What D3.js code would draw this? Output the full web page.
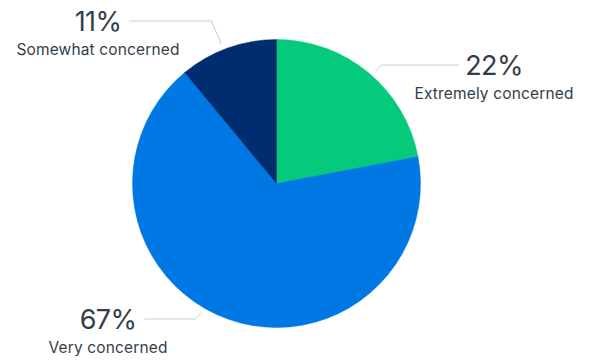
<!DOCTYPE html>
<html>
<head>
<meta charset="utf-8">
<script src="https://cdn.jsdelivr.net/npm/d3@7"></script>
<style>
  body { margin: 0; background: #fff; }
  svg { display: block; }
</style>
</head>
<body>
<div id="vis"></div>
<script>
const FRAME_WIDTH = 590;
const FRAME_HEIGHT = 360;

// chart data
const categories = ["Extremely concerned", "Very concerned", "Somewhat concerned"];
const shares = [22, 67, 11];
const colors = ["#06ca7b", "#0078e3", "#002d6f"];

const CX = 276.5, CY = 183.5, RADIUS = 144;
const TEXT_COLOR = "#333e4a";

// where each label sits (lineY = y of the horizontal leader, textX = centre of text)
const LABEL_LAYOUT = {
  "Extremely concerned": {side: 1, lineY: 65, textX: 494, elbowDx: 6, startY: 71},
  "Very concerned": {side: -1, lineY: 319, textX: 108, elbowDx: 5, startY: 313},
  "Somewhat concerned": {side: -1, lineY: 21, textX: 98, elbowDx: 10, startY: 44}
};

const data = categories.map((c, i) => ({name: c, value: shares[i], color: colors[i]}));

const FRAME = d3.select("#vis")
  .append("svg")
    .attr("width", FRAME_WIDTH)
    .attr("height", FRAME_HEIGHT);

const pie = d3.pie()
  .sort(null)
  .value(d => d.value);

const arc = d3.arc()
  .innerRadius(0)
  .outerRadius(RADIUS);

const g = FRAME.append("g")
  .attr("transform", "translate(" + CX + "," + CY + ")");

g.selectAll("path")
  .data(pie(data))
  .enter()
  .append("path")
    .attr("d", arc)
    .attr("fill", d => d.data.color)
    .attr("stroke", d => d.data.color)
    .attr("stroke-width", 0.5);

// labels with leader lines
const LEAD_R = RADIUS + 6;
data.forEach(d => {
  const L = LABEL_LAYOUT[d.name];
  const sy = L.startY;
  const sx = CX + L.side * Math.sqrt(LEAD_R * LEAD_R - (sy - CY) * (sy - CY));
  const ex = sx + L.side * L.elbowDx;

  const pct = FRAME.append("text")
    .attr("x", L.textX)
    .attr("y", L.lineY + 10)
    .attr("text-anchor", "middle")
    .attr("font-family", "Inter, 'Noto Sans', sans-serif")
    .attr("font-size", "27px")
    .attr("letter-spacing", "-0.6px")
    .attr("fill", TEXT_COLOR)
    .text(d.value + "%");

  FRAME.append("text")
    .attr("x", L.textX)
    .attr("y", L.lineY + 34)
    .attr("text-anchor", "middle")
    .attr("font-family", "Inter, 'Noto Sans', sans-serif")
    .attr("font-size", "15.5px")
    .attr("letter-spacing", "0.15px")
    .attr("fill", TEXT_COLOR)
    .text(d.name);

  const w = pct.node().getComputedTextLength();
  const tx = L.side > 0 ? L.textX - w / 2 - 6 : L.textX + w / 2 + 8;

  FRAME.append("polyline")
    .attr("points", [[sx, sy], [ex, L.lineY], [tx, L.lineY]].map(p => p.join(",")).join(" "))
    .attr("fill", "none")
    .attr("stroke", "#c9cccf")
    .attr("stroke-width", 1);
});
</script>
</body>
</html>
